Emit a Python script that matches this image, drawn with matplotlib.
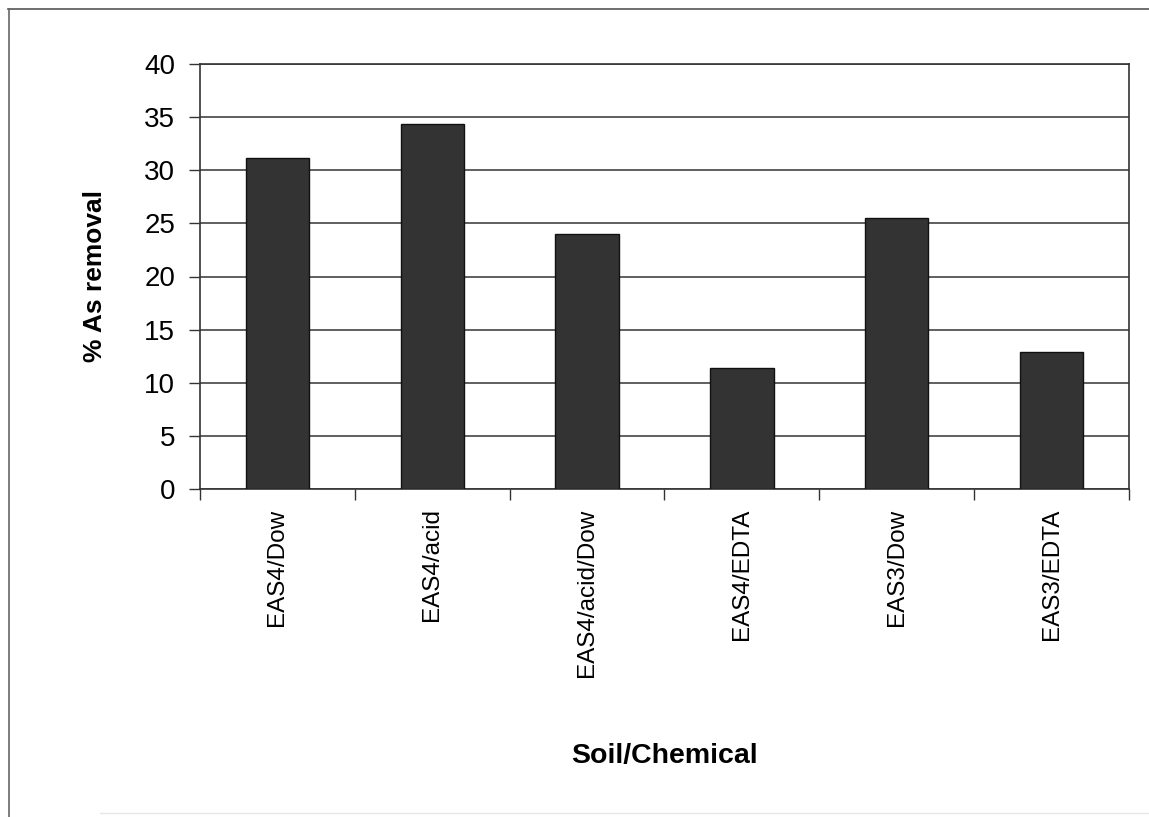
import matplotlib
matplotlib.use("Agg")
import matplotlib.pyplot as plt
from matplotlib.lines import Line2D

# Data
categories = ["EAS4/Dow", "EAS4/acid", "EAS4/acid/Dow", "EAS4/EDTA", "EAS3/Dow", "EAS3/EDTA"]
removal = [31.2, 34.4, 24.0, 11.4, 25.5, 12.9]
y_ticks = [0, 5, 10, 15, 20, 25, 30, 35, 40]

plt.rcParams['font.family'] = ['Liberation Sans', 'DejaVu Sans']

W, H = 1149, 817
fig = plt.figure(figsize=(W / 100, H / 100), dpi=100)
fig.patch.set_facecolor("white")

# scanned page frame: top and left edges, faint bottom edge
fig.lines.append(Line2D([8 / W, 1.0], [1 - 9 / H, 1 - 9 / H], transform=fig.transFigure,
                        color="#555555", linewidth=1.2))
fig.lines.append(Line2D([9 / W, 9 / W], [0.0, 1 - 9 / H], transform=fig.transFigure,
                        color="#666666", linewidth=1.2))
fig.lines.append(Line2D([100 / W, 1.0], [1 - 813 / H, 1 - 813 / H], transform=fig.transFigure,
                        color="#e6e6e6", linewidth=1.0))

ax = fig.add_axes([200 / W, 1 - 489 / H, (1129 - 200) / W, (489 - 64) / H])

x = list(range(len(categories)))
ax.bar(x, removal, width=0.41, color="#333333", edgecolor="#111111",
       linewidth=1.0, zorder=3)

ax.set_xlim(-0.5, len(categories) - 0.5)
ax.set_ylim(0, 40)
ax.set_yticks(y_ticks)
ax.set_yticklabels([str(v) for v in y_ticks], fontsize=20)

# grid lines at every 5
ax.yaxis.grid(True, color="#444444", linewidth=1.2, zorder=0)
ax.set_axisbelow(True)

# category labels at centres, tick marks at the boundaries
ax.set_xticks(x)
ax.set_xticklabels(categories, rotation=90, fontsize=17.5)
ax.tick_params(axis="x", which="major", length=0, pad=14)
ax.set_xticks([i - 0.5 for i in range(len(categories) + 1)], minor=True)
ax.tick_params(axis="x", which="minor", length=8, width=1.0, color="#333333")
ax.tick_params(axis="y", length=8, width=1.0, color="#333333", pad=10)

for s in ax.spines.values():
    s.set_color("#333333")
    s.set_linewidth(1.2)

ax.set_ylabel("% As removal", fontsize=19, fontweight="bold", labelpad=27)
ax.set_xlabel("Soil/Chemical", fontsize=20.5, fontweight="bold", labelpad=48)

fig.savefig("out.png", dpi=100, facecolor="white")
